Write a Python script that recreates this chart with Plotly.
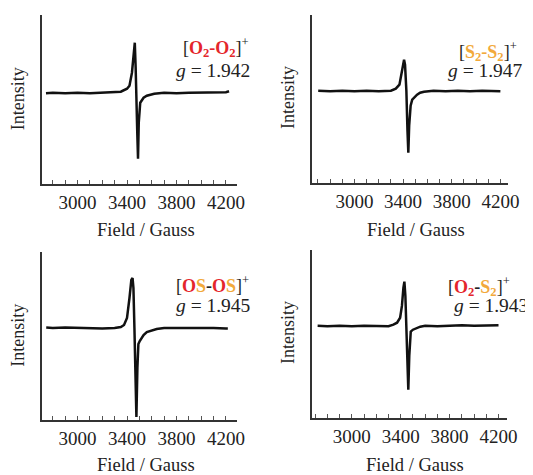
import plotly.graph_objects as go

# The page body has an 8px default margin, so the figure is drawn 8px smaller
# and every screen position is shifted by that offset.
OFF = 8
W, H = 533 - OFF, 475 - OFF

# ---- data (field in Gauss, intensity in arbitrary units, baseline = 0) ----
field_OO = [2745, 2800, 2900, 3000, 3100, 3200, 3300, 3350, 3400, 3420, 3440, 3452, 3463, 3470, 3477,
            3483, 3489, 3495, 3507, 3520, 3534, 3560, 3584, 3620, 3700, 3800, 3900, 4000, 4100, 4200, 4225]
inten_OO = [-0.5, 0, -0.5, 0, -0.5, 0, 0, 1, 4, 7, 20, 35, 50, 25, 0,
            -40, -66, -30, -10, -7, -5, -3, -2, -1, 0, -0.5, 0, 0, 0.5, 0.5, 1.5]

field_SS = [2702, 2800, 2900, 3000, 3100, 3200, 3300, 3340, 3370, 3390, 3400, 3408, 3416, 3427, 3436,
            3443, 3450, 3462, 3475, 3495, 3515, 3540, 3572, 3650, 3750, 3850, 3950, 4050, 4150, 4200]
inten_SS = [0, -0.5, 0, -0.5, 0, -0.5, 0, 2, 6, 18, 27, 31, 26, 0, -40,
            -62, -35, -15, -9, -6, -4, -2, -1, 0, -0.5, 0, -0.5, 0, -0.5, -0.5]

field_OSOS = [2747, 2800, 2900, 3000, 3100, 3200, 3300, 3350, 3376, 3400, 3420, 3435, 3445, 3452, 3460, 3468,
              3476, 3484, 3492, 3503, 3520, 3534, 3560, 3584, 3640, 3700, 3800, 3900, 4000, 4100, 4200, 4215]
inten_OSOS = [0.5, 0, 0.5, 0, 0, -0.5, 0, 1, 3, 10, 30, 48, 50, 40, 0, -50,
              -89, -40, -16, -13, -9, -7, -4, -3, -1, 0, 0, 0.5, 0, 0, -0.5, -0.5]

field_OS = [2720, 2800, 2900, 3000, 3100, 3200, 3300, 3340, 3370, 3395, 3410, 3422, 3430, 3438, 3446,
            3454, 3462, 3470, 3482, 3500, 3520, 3560, 3600, 3700, 3800, 3900, 4000, 4100, 4200]
inten_OS = [0, -0.5, 0, -0.5, 0, 0, -0.5, 1, 3, 8, 20, 38, 44, 30, 0,
            -35, -64, -30, -6, -4, -3, -1, 0, -0.5, 0, 0.5, 0, 0.5, 0.5]

species = ["[O2-O2]+", "[S2-S2]+", "[OS-OS]+", "[O2-S2]+"]
g_values = ["1.942", "1.947", "1.945", "1.943"]
tick_vals = [3000, 3400, 3800, 4200]
tick_text = ["3000", "3400", "3800", "4200"]

RED = "#e4262b"
ORG = "#f2a93b"
FONT = "Liberation Serif"
TXT = "#222222"

labels_html = [
    f"[<b><span style='color:{RED}'>O<sub>2</sub>-O<sub>2</sub></span></b>]<sup>+</sup>",
    f"[<b><span style='color:{ORG}'>S<sub>2</sub>-S<sub>2</sub></span></b>]<sup>+</sup>",
    f"[<b><span style='color:{RED}'>O</span><span style='color:{ORG}'>S</span>-"
    f"<span style='color:{RED}'>O</span><span style='color:{ORG}'>S</span></b>]<sup>+</sup>",
    f"[<b><span style='color:{RED}'>O<sub>2</sub></span>-<span style='color:{ORG}'>S<sub>2</sub></span></b>]<sup>+</sup>",
]

series = [(field_OO, inten_OO), (field_SS, inten_SS), (field_OSOS, inten_OSOS), (field_OS, inten_OS)]

# panel geometry in screen pixels: (x0, x1, ytop, ybot), axis ranges
panels = [
    dict(px=(43, 242, 15, 184), xr=[2715, 4290], yr=[-91.3, 77.7]),
    dict(px=(319, 519, 15, 183), xr=[2655, 4265], yr=[-92.3, 75.7]),
    dict(px=(43, 242, 252, 420), xr=[2715, 4290], yr=[-92, 76]),
    dict(px=(318, 518, 250, 418), xr=[2670, 4272], yr=[-92.3, 75.7]),
]
# text positions (screen px): label right edge, label y, g right edge, g y, intensity x, field y
text_pos = [
    (256, 48, 257, 70, 18, 230),
    (530, 51, 536, 70, 294, 230),
    (256, 284, 257, 305, 18, 465),
    (523, 286, 541, 305, 294, 465),
]


def sx(x):
    return (x - OFF) / W


def sy(y):
    return 1 - (y - OFF) / H


fig = go.Figure()
annotations = []
for i, (p, (fx, fy)) in enumerate(zip(panels, series)):
    n = "" if i == 0 else str(i + 1)
    x0, x1, yt, yb = p["px"]
    fig.add_trace(go.Scatter(x=fx, y=fy, mode="lines", xaxis="x" + n, yaxis="y" + n,
                             line=dict(color="#111111", width=2.5),
                             showlegend=False, hoverinfo="skip"))
    fig.layout["xaxis" + n] = dict(
        domain=[sx(x0), sx(x1)], anchor="y" + n, range=p["xr"], showgrid=False, zeroline=False,
        showline=True, linecolor="#333333", linewidth=1.5, ticks="inside", ticklen=4,
        tickcolor="#555555", tickvals=tick_vals, ticktext=tick_text, ticklabelstandoff=0,
        tickfont=dict(family=FONT, size=19, color=TXT),
        minor=dict(ticks="inside", ticklen=4, dtick=100, tick0=2700, tickcolor="#555555"),
    )
    fig.layout["yaxis" + n] = dict(
        domain=[sy(yb), sy(yt)], anchor="x" + n, range=p["yr"], showgrid=False,
        zeroline=False, showline=True, linecolor="#333333", linewidth=1.5, ticks="",
        showticklabels=False,
    )
    lx, ly, gx, gy, ix, fyp = text_pos[i]
    annotations.append(dict(x=sx(lx), y=sy(ly), xref="paper", yref="paper", xanchor="right",
                            yanchor="middle", showarrow=False, text=labels_html[i],
                            font=dict(family=FONT, size=18, color=TXT)))
    annotations.append(dict(x=sx(gx), y=sy(gy), xref="paper", yref="paper", xanchor="right",
                            yanchor="middle", showarrow=False, text=f"<i>g</i> = {g_values[i]}",
                            font=dict(family=FONT, size=19.5, color=TXT)))
    annotations.append(dict(x=sx(ix), y=sy((yt + yb) / 2 - 1), xref="paper", yref="paper",
                            xanchor="center", yanchor="middle", showarrow=False, text="Intensity",
                            textangle=-90, font=dict(family=FONT, size=18, color=TXT)))
    annotations.append(dict(x=sx((x0 + x1) / 2 + 6), y=sy(fyp), xref="paper", yref="paper",
                            xanchor="center", yanchor="middle", showarrow=False, text="Field / Gauss",
                            font=dict(family=FONT, size=18.5, color=TXT)))

fig.update_layout(width=W, height=H, margin=dict(l=0, r=0, t=0, b=0),
                  paper_bgcolor="white", plot_bgcolor="white", annotations=annotations)
fig.write_html("out.html")
